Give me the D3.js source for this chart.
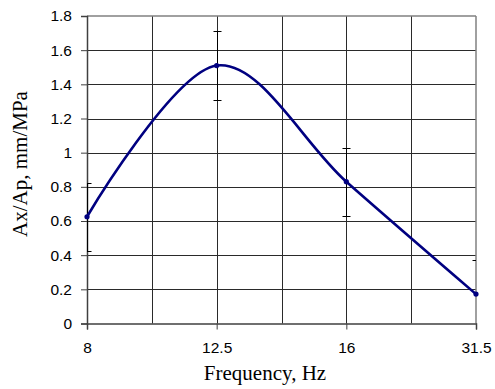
<!DOCTYPE html>
<html>
<head>
<meta charset="utf-8">
<script src="https://cdn.jsdelivr.net/npm/d3@7"></script>
<style>
  html, body { margin: 0; padding: 0; background: #fff; }
  svg { display: block; }
</style>
</head>
<body>
<svg id="chart" width="495" height="389"></svg>
<script>
// ---- data ----
const categories = ["8", "12.5", "16", "31.5"];
const values = [0.625, 1.51, 0.83, 0.172];
const errors = [0.2, 0.2, 0.2, 0.2];
const yTicks = [0, 0.2, 0.4, 0.6, 0.8, 1, 1.2, 1.4, 1.6, 1.8];
const xTitle = "Frequency, Hz";
const yTitle = "Ax/Ap, mm/MPa";

// ---- layout ----
const pL = 87, pR = 476, pT = 16, pB = 323.5;
const SERIF = '"Liberation Serif", "Times New Roman", serif';
const SANS = '"Liberation Sans", Arial, sans-serif';

const svg = d3.select("#chart");

const x = d3.scalePoint().domain(categories).range([pL, pR]);
const y = d3.scaleLinear().domain([0, 1.8]).range([pB, pT]);
const crisp = v => Math.round(v) + 0.5;

const data = categories.map((c, i) => ({ c, v: values[i], e: errors[i] }));

// clip
svg.append("defs").append("clipPath").attr("id", "plotclip")
  .append("rect").attr("x", pL).attr("y", pT)
  .attr("width", pR - pL).attr("height", pB - pT);

// gridlines horizontal
const grid = svg.append("g").attr("class", "grid");
grid.selectAll("line.h").data(yTicks.filter(d => d > 0 && d < 1.8)).enter()
  .append("line").attr("class", "h")
  .attr("x1", pL).attr("x2", pR)
  .attr("y1", d => crisp(y(d))).attr("y2", d => crisp(y(d)))
  .attr("stroke", "#2a2a2a").attr("stroke-width", 1);

// gridlines vertical: at categories and midpoints between them
const vPos = [];
categories.forEach((c, i) => {
  vPos.push(x(c));
  if (i < categories.length - 1) vPos.push((x(c) + x(categories[i + 1])) / 2);
});
grid.selectAll("line.v").data(vPos.filter(p => p > pL + 1 && p < pR - 1)).enter()
  .append("line").attr("class", "v")
  .attr("y1", pT).attr("y2", pB)
  .attr("x1", d => crisp(d)).attr("x2", d => crisp(d))
  .attr("stroke", "#2a2a2a").attr("stroke-width", 1);

// frame top/right
svg.append("line").attr("x1", pL).attr("x2", pR).attr("y1", pT).attr("y2", pT)
  .attr("stroke", "#808080").attr("stroke-width", 1.5);
svg.append("line").attr("x1", pR).attr("x2", pR).attr("y1", pT).attr("y2", pB)
  .attr("stroke", "#808080").attr("stroke-width", 1.5);

// axes
const yAxis = d3.axisLeft(y).tickValues(yTicks).tickSize(6).tickPadding(9)
  .tickFormat(d => String(+d.toFixed(1)));
const gy = svg.append("g").attr("transform", `translate(${pL},0)`).call(yAxis);
const xAxis = d3.axisBottom(x).tickSize(6).tickPadding(12);
const gx = svg.append("g").attr("transform", `translate(0,${pB})`).call(xAxis);
[gy, gx].forEach(g => {
  g.select(".domain").attr("stroke", "#404040").attr("stroke-width", 1.5);
  g.selectAll(".tick line").attr("stroke", "#404040").attr("stroke-width", 1);
  g.selectAll(".tick text").attr("fill", "#000")
    .style("font-family", SANS).style("font-size", "15.5px");
});

// error bars
const eb = svg.append("g").attr("clip-path", "url(#plotclip)");
data.forEach(d => {
  const cx = crisp(x(d.c));
  eb.append("line").attr("x1", cx).attr("x2", cx)
    .attr("y1", crisp(y(d.v - d.e))).attr("y2", crisp(y(d.v + d.e)))
    .attr("stroke", "#000").attr("stroke-width", 1);
  [d.v - d.e, d.v + d.e].forEach(val => {
    eb.append("line").attr("x1", cx - 4).attr("x2", cx + 4)
      .attr("y1", crisp(y(val))).attr("y2", crisp(y(val)))
      .attr("stroke", "#000").attr("stroke-width", 1);
  });
});

// smoothed line
const line = d3.line().x(d => x(d.c)).y(d => y(d.v)).curve(d3.curveCardinal.tension(0));
svg.append("path").datum(data).attr("d", line)
  .attr("fill", "none").attr("stroke", "#000080").attr("stroke-width", 2.6);

svg.append("g").selectAll("circle").data(data).enter().append("circle")
  .attr("cx", d => x(d.c)).attr("cy", d => y(d.v)).attr("r", 2.6)
  .attr("fill", "#000080");

// titles
svg.append("text").attr("x", 265).attr("y", 380).attr("text-anchor", "middle")
  .style("font-family", SERIF).style("font-size", "21px")
  .text(xTitle);
svg.append("text").attr("transform", "translate(27,164) rotate(-90)").attr("text-anchor", "middle")
  .style("font-family", SERIF).style("font-size", "21px")
  .text(yTitle);
</script>
</body>
</html>
